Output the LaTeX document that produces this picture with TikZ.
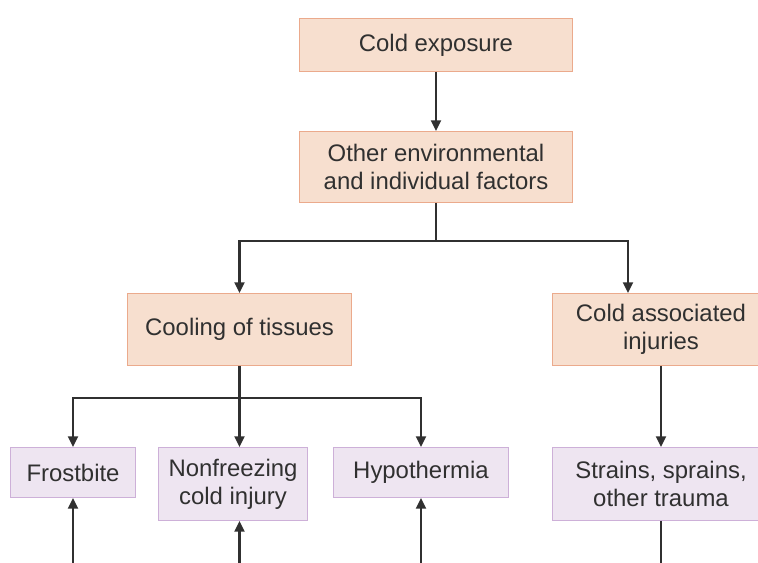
\documentclass[tikz,border=0pt]{standalone}
\usepackage{fontspec}
\setmainfont{Liberation Sans}
\usetikzlibrary{arrows.meta,positioning,calc}
\definecolor{peach}{HTML}{F7DFCF}
\definecolor{peachln}{HTML}{EBAA8C}
\definecolor{lilac}{HTML}{EEE5F1}
\definecolor{lilacln}{HTML}{CDB0D8}
\definecolor{ink}{HTML}{303030}

\begin{document}
\begin{tikzpicture}[x=0.025cm,y=-0.025cm,>={Triangle[length=7.5pt,width=7pt]},
  cause/.style={draw=peachln,fill=peach,line width=0.7pt,inner sep=0pt,align=center,text=ink,
    font=\fontsize{17}{20}\selectfont},
  harm/.style={cause,draw=lilacln,fill=lilac},
  arr/.style={->,line width=1.6pt,ink}]
\useasboundingbox (0,0) rectangle (758,563);
% ---------- top chain ----------
\node[cause,minimum width=6.8cm,minimum height=1.325cm] (expo) at (436,45) {Cold exposure};
\node[cause,minimum width=6.8cm,minimum height=1.775cm] (other) at (436,167) {Other environmental\\and individual factors};
\node[cause,minimum width=5.575cm,minimum height=1.8cm] (cool) at (239.5,329.5) {Cooling of tissues};
\node[cause,minimum width=5.4cm,minimum height=1.8cm] (assoc) at (661,329.5) {Cold associated\\injuries};
% ---------- outcomes ----------
\node[harm,minimum width=3.1cm,minimum height=1.25cm] (frost) at (73,472.5) {Frostbite};
\node[harm,minimum width=3.7cm,minimum height=1.825cm] (nonf) at (233,484) {Nonfreezing\\cold injury};
\node[harm,minimum width=4.35cm,minimum height=1.25cm] (hypo) at (421,472.5) {Hypothermia};
\node[harm,minimum width=5.4cm,minimum height=1.825cm] (strain) at (661,484) {Strains, sprains,\\other trauma};
% connectors
\draw[arr] (expo) -- (other);
\draw[line width=1.6pt,ink] (other.south) -- ++(0,38) coordinate (split1);
\draw[arr] (split1) -| (cool.north);
\draw[arr] (split1) -| ([xshift=-0.825cm]assoc.north);
\draw[line width=1.6pt,ink] (cool.south) -- ++(0,32) coordinate (split2);
\draw[arr] (split2) -| (frost.north);
\draw[arr] (split2) -- (split2 |- nonf.north);
\draw[arr] (split2) -| (hypo.north);
\draw[arr] (assoc) -- (strain);
% ---------- lower edge ----------
\coordinate (bot) at (0,563);
\draw[arr] (frost.south |- bot) -- (frost.south);
\draw[arr] (split2 |- bot) -- (split2 |- nonf.south);
\draw[arr] (hypo.south |- bot) -- (hypo.south);
\draw[line width=1.6pt,ink] (strain.south) -- (strain.south |- bot);
\end{tikzpicture}
\end{document}
